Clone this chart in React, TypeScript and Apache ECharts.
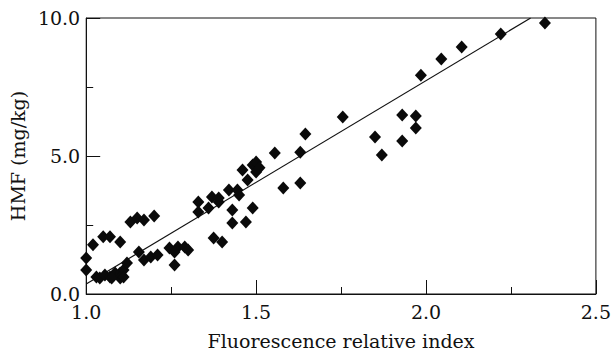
import React, { useEffect, useRef } from "react";
import * as echarts from "echarts";

const xValues = [
  1.0, 1.0, 1.02, 1.05, 1.07, 1.1, 1.13, 1.15, 1.17, 1.2,
  1.03, 1.04, 1.055, 1.07, 1.085, 1.1, 1.11, 1.12, 1.1, 1.11, 1.075,
  1.155, 1.17, 1.19, 1.21, 1.245, 1.27, 1.29, 1.3, 1.26, 1.26,
  1.33, 1.33, 1.36, 1.37, 1.39, 1.39, 1.375, 1.4, 1.42, 1.445, 1.45,
  1.46, 1.475, 1.49, 1.5, 1.5, 1.51, 1.43, 1.43, 1.47, 1.49,
  1.555, 1.63, 1.645, 1.58, 1.63,
  1.755, 1.85, 1.87, 1.93, 1.97, 1.97, 1.93, 1.985, 2.045, 2.105, 2.22, 2.35,
];
const yValues = [
  0.87, 1.3, 1.78, 2.07, 2.07, 1.88, 2.61, 2.75, 2.68, 2.83,
  0.62, 0.58, 0.69, 0.62, 0.76, 0.76, 0.87, 1.12, 0.58, 0.62, 0.58,
  1.52, 1.23, 1.34, 1.41, 1.67, 1.7, 1.7, 1.59, 1.05, 1.52,
  3.33, 2.97, 3.12, 3.51, 3.48, 3.33, 2.03, 1.88, 3.77, 3.77, 3.59,
  4.49, 4.13, 4.67, 4.78, 4.42, 4.57, 3.04, 2.57, 2.61, 3.12,
  5.11, 5.14, 5.8, 3.84, 4.02,
  6.41, 5.69, 5.04, 6.49, 6.45, 6.01, 5.54, 7.93, 8.51, 8.95, 9.42, 9.82,
];
const fitX = [1.0, 2.308];
const fitY = [0.36, 10.0];

const xLabels = ["1.0", "1.5", "2.0", "2.5"];
const yLabels = ["0.0", "5.0", "10.0"];
const xTitle = "Fluorescence relative index";
const yTitle = "HMF (mg/kg)";

const FONT = "DejaVu Serif";
const INK = "#111111";

export default function App() {
  const ref = useRef<HTMLDivElement>(null);
  useEffect(() => {
    if (!ref.current) return;
    const chart = echarts.init(ref.current, null, { renderer: "svg" });
    const pts = xValues.map((x, i) => [x, yValues[i]]);
    const fit = fitX.map((x, i) => [x, fitY[i]]);
    chart.setOption({
      animation: false,
      backgroundColor: "#ffffff",
      grid: {
        left: 84,
        right: 15,
        top: 18,
        bottom: 62,
        show: true,
        borderColor: INK,
        borderWidth: 1,
        backgroundColor: "transparent",
      },
      xAxis: {
        type: "value",
        min: 1,
        max: 2.5,
        interval: 0.5,
        name: xTitle,
        nameLocation: "middle",
        nameGap: 37,
        nameTextStyle: { fontFamily: FONT, fontSize: 19, color: INK },
        axisLine: { show: true, onZero: false, lineStyle: { color: INK, width: 1 } },
        axisTick: { show: true, inside: true, length: 14, lineStyle: { color: INK } },
        minorTick: { show: true, splitNumber: 2, length: 7, lineStyle: { color: INK } },
        splitLine: { show: false },
        minorSplitLine: { show: false },
        axisLabel: {
          margin: 8,
          fontFamily: FONT,
          fontSize: 19,
          color: INK,
          formatter: (v: number) => {
            const s = v.toFixed(1);
            return xLabels.includes(s) ? s : "";
          },
        },
      },
      yAxis: {
        type: "value",
        min: 0,
        max: 10,
        interval: 5,
        name: yTitle,
        nameLocation: "middle",
        nameGap: 52,
        nameRotate: 90,
        nameTextStyle: { fontFamily: FONT, fontSize: 19, color: INK },
        axisLine: { show: true, onZero: false, lineStyle: { color: INK, width: 1 } },
        axisTick: { show: true, inside: true, length: 14, lineStyle: { color: INK } },
        minorTick: { show: true, splitNumber: 2, length: 7, lineStyle: { color: INK } },
        splitLine: { show: false },
        minorSplitLine: { show: false },
        axisLabel: {
          margin: 6,
          fontFamily: FONT,
          fontSize: 19,
          color: INK,
          formatter: (v: number) => {
            const s = v.toFixed(1);
            return yLabels.includes(s) ? s : "";
          },
        },
      },
      series: [
        {
          type: "line",
          data: fit,
          symbol: "none",
          lineStyle: { color: INK, width: 1.2 },
          z: 2,
        },
        {
          type: "scatter",
          data: pts,
          symbol: "diamond",
          symbolSize: [12, 13],
          itemStyle: { color: "#0a0a0a", opacity: 1 },
          z: 3,
        },
      ],
    });
    return () => chart.dispose();
  }, []);
  return (
    <div
      ref={ref}
      style={{ position: "fixed", left: 0, top: 0, width: 614, height: 356 }}
    />
  );
}
